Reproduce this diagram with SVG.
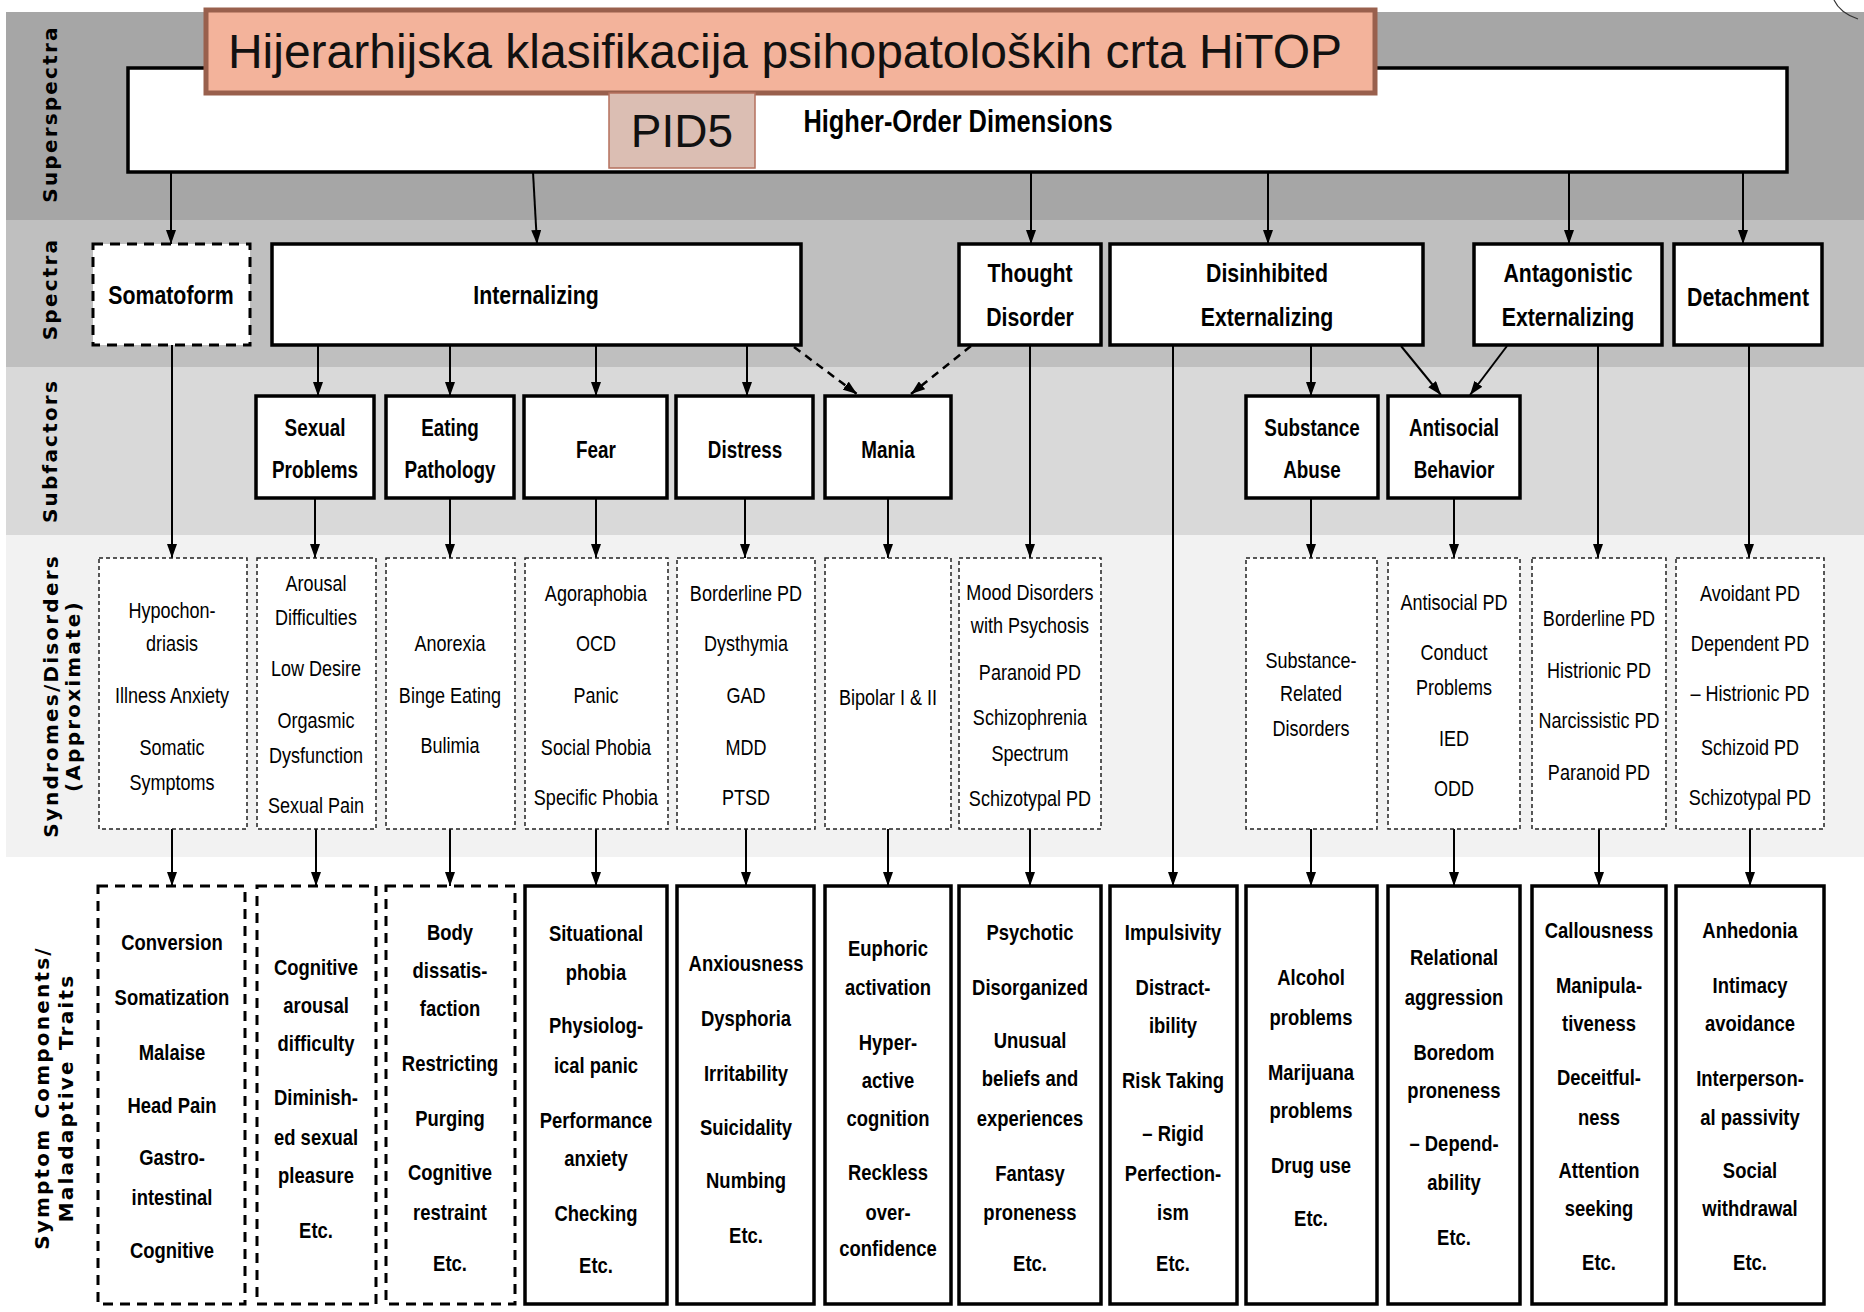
<svg xmlns="http://www.w3.org/2000/svg" width="1864" height="1312" viewBox="0 0 1864 1312">
<style>
.band{font-family:"DejaVu Sans",sans-serif;font-weight:bold;font-size:20px;letter-spacing:2.2px;fill:#000;text-anchor:middle}
.box{fill:#fff;stroke:#000;stroke-width:3.5}
.dbox{fill:#fff;stroke:#000;stroke-width:3;stroke-dasharray:10 7}
.sbox{fill:#fff;stroke:#222;stroke-width:1.5;stroke-dasharray:4 3}
.n text,text.n{font-family:"Liberation Sans",Arial,sans-serif;text-anchor:middle;fill:#000}
.spec text,text.spec{font-weight:bold;font-size:26px}
.sub text{font-weight:bold;font-size:23px}
.syn text{font-size:22px}
.sym text{font-weight:bold;font-size:22.5px}
.con{stroke:#000;stroke-width:2;fill:none;marker-end:url(#ah)}
.dcon{stroke:#000;stroke-width:2.5;fill:none;stroke-dasharray:8 6;marker-end:url(#ah)}
</style>
<defs>
<marker id="ah" viewBox="0 0 14 10" refX="14" refY="5" markerWidth="14" markerHeight="10" markerUnits="userSpaceOnUse" orient="auto">
<path d="M0,0 L14,5 L0,10 z" fill="#000"/>
</marker>
</defs>
<rect width="1864" height="1312" fill="#fff"/>
<g id="bands">
<rect x="6" y="12" width="1858" height="208" fill="#a6a6a6"/>
<rect x="6" y="220" width="1858" height="147" fill="#bfbfbf"/>
<rect x="6" y="367" width="1858" height="168" fill="#d9d9d9"/>
<rect x="6" y="535" width="1858" height="322" fill="#f2f2f2"/>
<path d="M1834,0 Q1840,13 1858,19" fill="none" stroke="#333" stroke-width="1.2"/>
</g>
<g id="band-labels">
<text class="band" transform="translate(57,114) rotate(-90)">Superspectra</text>
<text class="band" transform="translate(57,289) rotate(-90)">Spectra</text>
<text class="band" transform="translate(57,451) rotate(-90)">Subfactors</text>
<text class="band" transform="translate(58,696) rotate(-90)">Syndromes/Disorders</text>
<text class="band" transform="translate(80,696) rotate(-90)">(Approximate)</text>
<text class="band" transform="translate(49,1098) rotate(-90)">Symptom Components/</text>
<text class="band" transform="translate(73,1098) rotate(-90)">Maladaptive Traits</text>
</g>
<g id="connectors">
<line class="con" x1="171" y1="172" x2="171" y2="244"/>
<line class="con" x1="533" y1="172" x2="537" y2="244"/>
<line class="con" x1="1031" y1="172" x2="1031" y2="244"/>
<line class="con" x1="1268" y1="172" x2="1268" y2="244"/>
<line class="con" x1="1569" y1="172" x2="1569" y2="244"/>
<line class="con" x1="1743" y1="172" x2="1743" y2="244"/>
<line class="con" x1="318" y1="345" x2="318" y2="396"/>
<line class="con" x1="450" y1="345" x2="450" y2="396"/>
<line class="con" x1="596" y1="345" x2="596" y2="396"/>
<line class="con" x1="747" y1="345" x2="747" y2="396"/>
<line class="dcon" x1="794" y1="347" x2="857" y2="394"/>
<line class="dcon" x1="971" y1="346" x2="911" y2="394"/>
<line class="con" x1="1311" y1="345" x2="1311" y2="396"/>
<line class="con" x1="1401" y1="346" x2="1441" y2="395"/>
<line class="con" x1="1507" y1="346" x2="1470" y2="395"/>
<line class="con" x1="172" y1="345" x2="172" y2="558"/>
<line class="con" x1="1030" y1="345" x2="1030" y2="558"/>
<line class="con" x1="1598" y1="345" x2="1598" y2="558"/>
<line class="con" x1="1749" y1="345" x2="1749" y2="558"/>
<line class="con" x1="1173" y1="345" x2="1173" y2="886"/>
<line class="con" x1="315" y1="498" x2="315" y2="558"/>
<line class="con" x1="450" y1="498" x2="450" y2="558"/>
<line class="con" x1="596" y1="498" x2="596" y2="558"/>
<line class="con" x1="745" y1="498" x2="745" y2="558"/>
<line class="con" x1="888" y1="498" x2="888" y2="558"/>
<line class="con" x1="1311" y1="498" x2="1311" y2="558"/>
<line class="con" x1="1454" y1="498" x2="1454" y2="558"/>
<line class="con" x1="172" y1="829" x2="172" y2="886"/>
<line class="con" x1="316" y1="829" x2="316" y2="886"/>
<line class="con" x1="450" y1="829" x2="450" y2="886"/>
<line class="con" x1="596" y1="829" x2="596" y2="886"/>
<line class="con" x1="746" y1="829" x2="746" y2="886"/>
<line class="con" x1="888" y1="829" x2="888" y2="886"/>
<line class="con" x1="1030" y1="829" x2="1030" y2="886"/>
<line class="con" x1="1311" y1="829" x2="1311" y2="886"/>
<line class="con" x1="1454" y1="829" x2="1454" y2="886"/>
<line class="con" x1="1599" y1="829" x2="1599" y2="886"/>
<line class="con" x1="1750" y1="829" x2="1750" y2="886"/>
</g>
<g id="higher-order">
<rect class="box" x="128" y="68" width="1659" height="104"/>
<g class="n spec" transform="translate(958 0) scale(0.82 1)"><text x="0" y="132" style="font-size:31px">Higher-Order Dimensions</text></g>
</g>
<g id="title">
<rect x="206" y="10" width="1169" height="83" fill="#f3b39b" stroke="#99604d" stroke-width="5"/>
<text x="785" y="68" font-family="'Liberation Sans',Arial,sans-serif" font-size="48" text-anchor="middle" fill="#111">Hijerarhijska klasifikacija psihopatoloških crta HiTOP</text>
</g>
<g id="pid5">
<rect x="609" y="93" width="146" height="75" fill="#dbbeb3" stroke="#b5705e" stroke-width="1.5"/>
<text x="682" y="147" font-family="'Liberation Sans',Arial,sans-serif" font-size="46" text-anchor="middle" fill="#111">PID5</text>
</g>
<g id="somatoform">
<rect class="dbox" x="93" y="244" width="157" height="101"/>
<g class="n spec" transform="translate(171 0) scale(0.82 1)"><text x="0" y="304">Somatoform</text></g>
</g>
<g id="internalizing">
<rect class="box" x="272" y="244" width="529" height="101"/>
<g class="n spec" transform="translate(536 0) scale(0.82 1)"><text x="0" y="304">Internalizing</text></g>
</g>
<g id="thought-disorder">
<rect class="box" x="959" y="244" width="142" height="101"/>
<g class="n spec" transform="translate(1030 0) scale(0.82 1)"><text x="0" y="282">Thought</text><text x="0" y="326">Disorder</text></g>
</g>
<g id="disinhibited">
<rect class="box" x="1110" y="244" width="313" height="101"/>
<g class="n spec" transform="translate(1267 0) scale(0.82 1)"><text x="0" y="282">Disinhibited</text><text x="0" y="326">Externalizing</text></g>
</g>
<g id="antagonistic">
<rect class="box" x="1474" y="244" width="188" height="101"/>
<g class="n spec" transform="translate(1568 0) scale(0.82 1)"><text x="0" y="282">Antagonistic</text><text x="0" y="326">Externalizing</text></g>
</g>
<g id="detachment">
<rect class="box" x="1674" y="244" width="148" height="101"/>
<g class="n spec" transform="translate(1748 0) scale(0.82 1)"><text x="0" y="306">Detachment</text></g>
</g>
<g id="sexual-problems">
<rect class="box" x="256" y="396" width="118" height="102"/>
<g class="n sub" transform="translate(315 0) scale(0.82 1)"><text x="0" y="436">Sexual</text><text x="0" y="478">Problems</text></g>
</g>
<g id="eating-pathology">
<rect class="box" x="386" y="396" width="128" height="102"/>
<g class="n sub" transform="translate(450 0) scale(0.82 1)"><text x="0" y="436">Eating</text><text x="0" y="478">Pathology</text></g>
</g>
<g id="fear">
<rect class="box" x="524" y="396" width="143" height="102"/>
<g class="n sub" transform="translate(596 0) scale(0.82 1)"><text x="0" y="458">Fear</text></g>
</g>
<g id="distress">
<rect class="box" x="676" y="396" width="137" height="102"/>
<g class="n sub" transform="translate(745 0) scale(0.82 1)"><text x="0" y="458">Distress</text></g>
</g>
<g id="mania">
<rect class="box" x="825" y="396" width="126" height="102"/>
<g class="n sub" transform="translate(888 0) scale(0.82 1)"><text x="0" y="458">Mania</text></g>
</g>
<g id="substance-abuse">
<rect class="box" x="1246" y="396" width="132" height="102"/>
<g class="n sub" transform="translate(1312 0) scale(0.82 1)"><text x="0" y="436">Substance</text><text x="0" y="478">Abuse</text></g>
</g>
<g id="antisocial-behavior">
<rect class="box" x="1388" y="396" width="132" height="102"/>
<g class="n sub" transform="translate(1454 0) scale(0.82 1)"><text x="0" y="436">Antisocial</text><text x="0" y="478">Behavior</text></g>
</g>
<g id="syn-somatoform">
<rect class="sbox" x="99" y="558" width="148" height="271"/>
<g class="n syn" transform="translate(172 0) scale(0.82 1)">
<text x="0" y="618">Hypochon-</text><text x="0" y="651">driasis</text><text x="0" y="703">Illness Anxiety</text><text x="0" y="755">Somatic</text><text x="0" y="790">Symptoms</text>
</g>
</g>
<g id="syn-sexual">
<rect class="sbox" x="257" y="558" width="119" height="271"/>
<g class="n syn" transform="translate(316 0) scale(0.82 1)">
<text x="0" y="591">Arousal</text><text x="0" y="625">Difficulties</text><text x="0" y="676">Low Desire</text><text x="0" y="728">Orgasmic</text><text x="0" y="763">Dysfunction</text><text x="0" y="813">Sexual Pain</text>
</g>
</g>
<g id="syn-eating">
<rect class="sbox" x="386" y="558" width="129" height="271"/>
<g class="n syn" transform="translate(450 0) scale(0.82 1)">
<text x="0" y="651">Anorexia</text><text x="0" y="703">Binge Eating</text><text x="0" y="753">Bulimia</text>
</g>
</g>
<g id="syn-fear">
<rect class="sbox" x="525" y="558" width="143" height="271"/>
<g class="n syn" transform="translate(596 0) scale(0.82 1)">
<text x="0" y="601">Agoraphobia</text><text x="0" y="651">OCD</text><text x="0" y="703">Panic</text><text x="0" y="755">Social Phobia</text><text x="0" y="805">Specific Phobia</text>
</g>
</g>
<g id="syn-distress">
<rect class="sbox" x="677" y="558" width="138" height="271"/>
<g class="n syn" transform="translate(746 0) scale(0.82 1)">
<text x="0" y="601">Borderline PD</text><text x="0" y="651">Dysthymia</text><text x="0" y="703">GAD</text><text x="0" y="755">MDD</text><text x="0" y="805">PTSD</text>
</g>
</g>
<g id="syn-mania">
<rect class="sbox" x="825" y="558" width="126" height="271"/>
<g class="n syn" transform="translate(888 0) scale(0.82 1)">
<text x="0" y="705">Bipolar I &amp; II</text>
</g>
</g>
<g id="syn-thought">
<rect class="sbox" x="959" y="558" width="142" height="271"/>
<g class="n syn" transform="translate(1030 0) scale(0.82 1)">
<text x="0" y="600">Mood Disorders</text><text x="0" y="633">with Psychosis</text><text x="0" y="680">Paranoid PD</text><text x="0" y="725">Schizophrenia</text><text x="0" y="761">Spectrum</text><text x="0" y="806">Schizotypal PD</text>
</g>
</g>
<g id="syn-substance">
<rect class="sbox" x="1246" y="558" width="131" height="271"/>
<g class="n syn" transform="translate(1311 0) scale(0.82 1)">
<text x="0" y="668">Substance-</text><text x="0" y="701">Related</text><text x="0" y="736">Disorders</text>
</g>
</g>
<g id="syn-antisocial">
<rect class="sbox" x="1388" y="558" width="132" height="271"/>
<g class="n syn" transform="translate(1454 0) scale(0.82 1)">
<text x="0" y="610">Antisocial PD</text><text x="0" y="660">Conduct</text><text x="0" y="695">Problems</text><text x="0" y="746">IED</text><text x="0" y="796">ODD</text>
</g>
</g>
<g id="syn-antagonistic">
<rect class="sbox" x="1532" y="558" width="134" height="271"/>
<g class="n syn" transform="translate(1599 0) scale(0.82 1)">
<text x="0" y="626">Borderline PD</text><text x="0" y="678">Histrionic PD</text><text x="0" y="728">Narcissistic PD</text><text x="0" y="780">Paranoid PD</text>
</g>
</g>
<g id="syn-detachment">
<rect class="sbox" x="1676" y="558" width="148" height="271"/>
<g class="n syn" transform="translate(1750 0) scale(0.82 1)">
<text x="0" y="601">Avoidant PD</text><text x="0" y="651">Dependent PD</text><text x="0" y="701">– Histrionic PD</text><text x="0" y="755">Schizoid PD</text><text x="0" y="805">Schizotypal PD</text>
</g>
</g>
<g id="sym-somatoform">
<rect class="dbox" x="98" y="886" width="147" height="418"/>
<g class="n sym" transform="translate(172 0) scale(0.82 1)">
<text x="0" y="950">Conversion</text><text x="0" y="1005">Somatization</text><text x="0" y="1060">Malaise</text><text x="0" y="1113">Head Pain</text><text x="0" y="1165">Gastro-</text><text x="0" y="1205">intestinal</text><text x="0" y="1258">Cognitive</text>
</g>
</g>
<g id="sym-sexual">
<rect class="dbox" x="257" y="886" width="119" height="418"/>
<g class="n sym" transform="translate(316 0) scale(0.82 1)">
<text x="0" y="975">Cognitive</text><text x="0" y="1013">arousal</text><text x="0" y="1051">difficulty</text><text x="0" y="1105">Diminish-</text><text x="0" y="1145">ed sexual</text><text x="0" y="1183">pleasure</text><text x="0" y="1238">Etc.</text>
</g>
</g>
<g id="sym-eating">
<rect class="dbox" x="386" y="886" width="129" height="418"/>
<g class="n sym" transform="translate(450 0) scale(0.82 1)">
<text x="0" y="940">Body</text><text x="0" y="978">dissatis-</text><text x="0" y="1016">faction</text><text x="0" y="1071">Restricting</text><text x="0" y="1126">Purging</text><text x="0" y="1180">Cognitive</text><text x="0" y="1220">restraint</text><text x="0" y="1271">Etc.</text>
</g>
</g>
<g id="sym-fear">
<rect class="box" x="525" y="886" width="142" height="418"/>
<g class="n sym" transform="translate(596 0) scale(0.82 1)">
<text x="0" y="941">Situational</text><text x="0" y="980">phobia</text><text x="0" y="1033">Physiolog-</text><text x="0" y="1073">ical panic</text><text x="0" y="1128">Performance</text><text x="0" y="1166">anxiety</text><text x="0" y="1221">Checking</text><text x="0" y="1273">Etc.</text>
</g>
</g>
<g id="sym-distress">
<rect class="box" x="677" y="886" width="137" height="418"/>
<g class="n sym" transform="translate(746 0) scale(0.82 1)">
<text x="0" y="971">Anxiousness</text><text x="0" y="1026">Dysphoria</text><text x="0" y="1081">Irritability</text><text x="0" y="1135">Suicidality</text><text x="0" y="1188">Numbing</text><text x="0" y="1243">Etc.</text>
</g>
</g>
<g id="sym-mania">
<rect class="box" x="825" y="886" width="126" height="418"/>
<g class="n sym" transform="translate(888 0) scale(0.82 1)">
<text x="0" y="956">Euphoric</text><text x="0" y="995">activation</text><text x="0" y="1050">Hyper-</text><text x="0" y="1088">active</text><text x="0" y="1126">cognition</text><text x="0" y="1180">Reckless</text><text x="0" y="1220">over-</text><text x="0" y="1256">confidence</text>
</g>
</g>
<g id="sym-thought">
<rect class="box" x="959" y="886" width="142" height="418"/>
<g class="n sym" transform="translate(1030 0) scale(0.82 1)">
<text x="0" y="940">Psychotic</text><text x="0" y="995">Disorganized</text><text x="0" y="1048">Unusual</text><text x="0" y="1086">beliefs and</text><text x="0" y="1126">experiences</text><text x="0" y="1181">Fantasy</text><text x="0" y="1220">proneness</text><text x="0" y="1271">Etc.</text>
</g>
</g>
<g id="sym-impulsivity">
<rect class="box" x="1110" y="886" width="127" height="418"/>
<g class="n sym" transform="translate(1173 0) scale(0.82 1)">
<text x="0" y="940">Impulsivity</text><text x="0" y="995">Distract-</text><text x="0" y="1033">ibility</text><text x="0" y="1088">Risk Taking</text><text x="0" y="1141">– Rigid</text><text x="0" y="1181">Perfection-</text><text x="0" y="1220">ism</text><text x="0" y="1271">Etc.</text>
</g>
</g>
<g id="sym-substance">
<rect class="box" x="1246" y="886" width="131" height="418"/>
<g class="n sym" transform="translate(1311 0) scale(0.82 1)">
<text x="0" y="985">Alcohol</text><text x="0" y="1025">problems</text><text x="0" y="1080">Marijuana</text><text x="0" y="1118">problems</text><text x="0" y="1173">Drug use</text><text x="0" y="1226">Etc.</text>
</g>
</g>
<g id="sym-antisocial">
<rect class="box" x="1388" y="886" width="132" height="418"/>
<g class="n sym" transform="translate(1454 0) scale(0.82 1)">
<text x="0" y="965">Relational</text><text x="0" y="1005">aggression</text><text x="0" y="1060">Boredom</text><text x="0" y="1098">proneness</text><text x="0" y="1151">– Depend-</text><text x="0" y="1190">ability</text><text x="0" y="1245">Etc.</text>
</g>
</g>
<g id="sym-antagonistic">
<rect class="box" x="1532" y="886" width="134" height="418"/>
<g class="n sym" transform="translate(1599 0) scale(0.82 1)">
<text x="0" y="938">Callousness</text><text x="0" y="993">Manipula-</text><text x="0" y="1031">tiveness</text><text x="0" y="1085">Deceitful-</text><text x="0" y="1125">ness</text><text x="0" y="1178">Attention</text><text x="0" y="1216">seeking</text><text x="0" y="1270">Etc.</text>
</g>
</g>
<g id="sym-detachment">
<rect class="box" x="1676" y="886" width="148" height="418"/>
<g class="n sym" transform="translate(1750 0) scale(0.82 1)">
<text x="0" y="938">Anhedonia</text><text x="0" y="993">Intimacy</text><text x="0" y="1031">avoidance</text><text x="0" y="1086">Interperson-</text><text x="0" y="1125">al passivity</text><text x="0" y="1178">Social</text><text x="0" y="1216">withdrawal</text><text x="0" y="1270">Etc.</text>
</g>
</g>
</svg>
